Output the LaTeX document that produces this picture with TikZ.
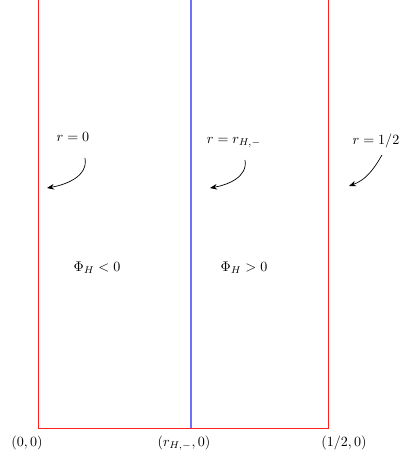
\documentclass[tikz,border=0pt]{standalone}
\usepackage{xcolor}
\usetikzlibrary{arrows.meta}
\definecolor{RegRed}{HTML}{FF2020}
\definecolor{RegBlue}{HTML}{7070FF}

\begin{document}
\begin{tikzpicture}[x=0.025cm,y=0.025cm,
  edge/.style={RegRed,line width=.7pt},
  horizon/.style={RegBlue,line width=.8pt},
  pointer/.style={-{Stealth[length=5pt,width=4pt]},line width=.5pt}]
\path[use as bounding box] (0,0) rectangle (402,462);
% region boundaries
\coordinate (o) at (38,34);
\coordinate (h) at (191,34);
\coordinate (e) at (328,34);
\coordinate (otop) at (38,462);
\coordinate (htop) at (191,462);
\coordinate (etop) at (328,462);
\draw[edge] (otop) -- (o) -- (e) -- (etop);
\draw[horizon] (h) -- (htop);
% axis labels
\node (lo) at (27,19) {$(0,0)$};
\node (lh) at (184,19) {$(r_{H,-},0)$};
\node (le) at (344,19) {$(1/2,0)$};
% curve labels
\node (ro) at (73,325) {$r=0$};
\node (rh) at (234,320) {$r=r_{H,-}$};
\node (re) at (376,321) {$r=1/2$};
\coordinate (ao) at (85,304);
\coordinate (bo) at (47,274);
\coordinate (ah) at (245,302);
\coordinate (bh) at (210,274);
\coordinate (ae) at (382,307);
\coordinate (be) at (349,276);
\draw[pointer] (ao) to[out=-80,in=10] (bo);
\draw[pointer] (ah) to[out=-80,in=10] (bh);
\draw[pointer] (ae) to[out=-120,in=20] (be);
% sign of Phi
\node (neg) at (97,194) {$\Phi_H<0$};
\node (pos) at (244,194) {$\Phi_H>0$};
\end{tikzpicture}
\end{document}
